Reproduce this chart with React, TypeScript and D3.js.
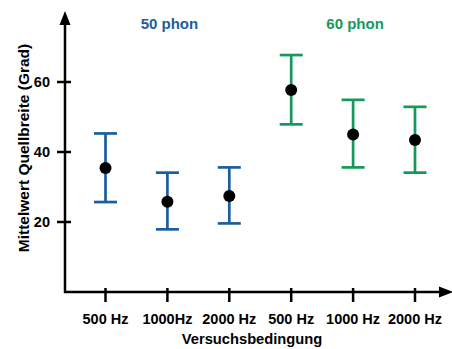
import React, { useEffect, useRef } from 'react'
import * as d3 from 'd3'

const conditions = ['500 Hz', '1000Hz', '2000 Hz', '500 Hz', '1000 Hz', '2000 Hz']
const groups = ['50 phon', '50 phon', '50 phon', '60 phon', '60 phon', '60 phon']
const means = [35.4, 25.8, 27.4, 57.7, 45.0, 43.4]
const upper = [45.3, 34.1, 35.6, 67.7, 54.9, 52.9]
const lower = [25.7, 17.9, 19.6, 47.9, 35.6, 34.1]
const yTicks = [20, 40, 60]
const groupLabels = ['50 phon', '60 phon']

const BLUE = '#1b5e9c'
const GREEN = '#17985a'
const FONT = '"Liberation Sans", Arial, Helvetica, sans-serif'

export default function App() {
  const ref = useRef<SVGSVGElement>(null)

  useEffect(() => {
    const svg = d3.select(ref.current)
    svg.selectAll('*').remove()

    const x0 = 65
    const yBase = 292
    const xScale = d3.scalePoint<number>()
      .domain(d3.range(conditions.length))
      .range([105.5, 415])
    const yScale = d3.scaleLinear().domain([0, 80]).range([yBase, yBase - 280])
    const color = (g: string) => (g === '50 phon' ? BLUE : GREEN)

    // axes
    const axes = svg.append('g').attr('stroke', '#000').attr('stroke-width', 2.5)
    axes.append('line').attr('x1', x0).attr('x2', x0).attr('y1', yBase + 1).attr('y2', 22)
    axes.append('line').attr('x1', x0 - 1).attr('x2', 444).attr('y1', yBase).attr('y2', yBase)
    svg.append('path')
      .attr('d', `M${x0},11 L${x0 - 5.5},25 L${x0 + 5.5},25 Z`)
      .attr('fill', '#000')
    svg.append('path')
      .attr('d', `M453,${yBase} L439,${yBase - 5.5} L439,${yBase + 5.5} Z`)
      .attr('fill', '#000')

    // y ticks
    yTicks.forEach(t => {
      const y = yScale(t)
      axes.append('line').attr('x1', x0 - 8).attr('x2', x0 + 6).attr('y1', y).attr('y2', y)
      svg.append('text')
        .attr('x', 50).attr('y', y + 5)
        .attr('text-anchor', 'end')
        .style('font-family', FONT).style('font-size', '14.5px').style('font-weight', 'bold')
        .text(t)
    })

    // x ticks
    conditions.forEach((c, i) => {
      const x = xScale(i)!
      axes.append('line').attr('x1', x).attr('x2', x).attr('y1', yBase - 4).attr('y2', yBase + 10)
      svg.append('text')
        .attr('x', x).attr('y', 324)
        .attr('text-anchor', 'middle')
        .style('font-family', FONT).style('font-size', '14.5px').style('font-weight', 'bold')
        .text(c)
    })

    // group labels
    groupLabels.forEach(g => {
      const idx = groups.map((d, i) => (d === g ? i : -1)).filter(i => i >= 0)
      const cx = (xScale(idx[0])! + xScale(idx[idx.length - 1])!) / 2
      svg.append('text')
        .attr('x', cx + 2).attr('y', 29)
        .attr('text-anchor', 'middle')
        .style('font-family', FONT).style('font-size', '15px').style('font-weight', 'bold')
        .attr('fill', color(g))
        .text(g)
    })

    // error bars
    const capW = 11.5
    conditions.forEach((c, i) => {
      const x = xScale(i)!
      const g = svg.append('g').attr('stroke', color(groups[i])).attr('stroke-width', 2.7)
      g.append('line').attr('x1', x).attr('x2', x).attr('y1', yScale(upper[i])).attr('y2', yScale(lower[i]))
      g.append('line').attr('x1', x - capW).attr('x2', x + capW).attr('y1', yScale(upper[i])).attr('y2', yScale(upper[i]))
      g.append('line').attr('x1', x - capW).attr('x2', x + capW).attr('y1', yScale(lower[i])).attr('y2', yScale(lower[i]))
      svg.append('circle').attr('cx', x).attr('cy', yScale(means[i])).attr('r', 6).attr('fill', '#000')
    })

    // axis titles
    svg.append('text')
      .attr('transform', `translate(29,148) rotate(-90)`)
      .attr('text-anchor', 'middle')
      .style('font-family', FONT).style('font-size', '15.5px').style('font-weight', 'bold')
      .text('Mittelwert Quellbreite (Grad)')
    svg.append('text')
      .attr('x', 252).attr('y', 344)
      .attr('text-anchor', 'middle')
      .style('font-family', FONT).style('font-size', '14.7px').style('font-weight', 'bold')
      .text('Versuchsbedingung')
  }, [])

  return (
    <svg ref={ref} width={452} height={349}
      style={{ position: 'absolute', left: 0, top: 0, background: 'white' }} />
  )
}
